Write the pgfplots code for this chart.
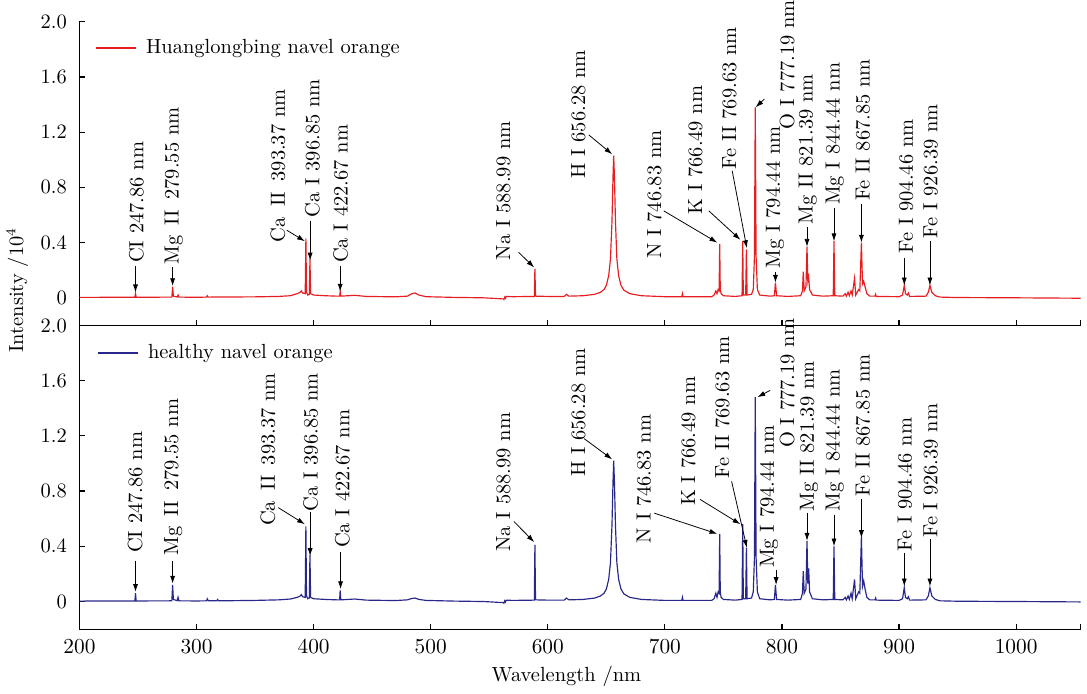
\documentclass[border=0pt]{standalone}
\usepackage{pgfplots}
\pgfplotsset{compat=1.18}
\usetikzlibrary{arrows.meta}
\definecolor{hlbred}{RGB}{230,30,34}
\definecolor{hblue}{RGB}{40,40,138}

\tikzset{
  ann/.style={rotate=90, anchor=west, inner sep=0pt, font=\fontsize{10.5}{12}\selectfont},
  arr/.style={-{Latex[length=4pt,width=2.6pt]}, line width=0.4pt, black},
}
\pgfplotsset{
  spec/.style={
    scale only axis, width=513.7pt, height=155.85pt,
    xmin=200, xmax=1055, ymin=-0.2, ymax=2.0,
    axis x line*=bottom, axis y line*=left,
    axis line style={-, line width=0.6pt},
    tick align=inside, major tick length=2.6pt,
    tick style={black, line width=0.6pt},
    xtick={200,300,...,1000}, extra x ticks={1055}, extra x tick labels={},
    x tick label style={/pgf/number format/set thousands separator={}},
    ytick={0,0.4,0.8,1.2,1.6,2.0}, yticklabels={0,0.4,0.8,1.2,1.6,2.0},
    ticklabel style={font=\fontsize{10.5}{12}\selectfont},
    yticklabel style={xshift=-3pt},
    xticklabel style={yshift=-2pt},
    clip=false,
    legend style={draw=none, fill=none, inner sep=0pt, font=\fontsize{10.5}{12}\selectfont,
      nodes={inner xsep=5pt, inner ysep=0pt}},
    legend cell align=left,
    legend image code/.code={\draw[#1] (0pt,0pt) -- (20.6pt,0pt);},
  },
}

\begin{document}
\begin{tikzpicture}
% ---------------- bottom panel: healthy ----------------
\begin{axis}[spec, at={(0,0)}, anchor=south west,
  legend style={at={(axis cs:214.6,1.80)}, anchor=west}]
\addplot[hblue, line width=0.6pt] coordinates {
(200,0.003) (240,0.004) (247.3,0.004) (247.86,0.06) (248.4,0.004)
(278.9,0.005) (279.55,0.12) (280.2,0.015) (283.5,0.006) (284.2,0.03) (284.9,0.005)
(300,0.004) (308.5,0.005) (309.2,0.02) (310,0.006) (317.3,0.006) (318,0.015) (318.7,0.006)
(330,0.006) (350,0.008) (370,0.012) (380,0.018) (386,0.03) (388.5,0.04) (389.5,0.05) (390.5,0.035)
(392.8,0.03) (393.37,0.545) (393.9,0.04) (395,0.02) (396.3,0.025) (396.85,0.34) (397.4,0.03)
(400,0.02) (410,0.015) (420,0.012) (422.2,0.012) (422.67,0.08) (423.2,0.012)
(435,0.018) (445,0.01) (470,0.007) (480,0.012) (484,0.022) (486.5,0.025) (490,0.015) (496,0.008)
(520,0.003) (545,0.0) (562,-0.008) (562.5,-0.012) (563.2,0.005) (563.8,-0.004) (564.5,0.01)
(570,0.008) (588.5,0.01) (588.99,0.41) (589.5,0.012) (600,0.01) (614,0.01) (616,0.025) (618,0.012)
(630,0.015) (640,0.025) (645,0.04) (648,0.06) (650,0.09) (652,0.16) (653.5,0.28) (654.8,0.55)
(655.7,0.87) (656.28,1.02) (656.9,0.87) (657.8,0.55) (659,0.28) (660.5,0.16) (662.5,0.09)
(665,0.055) (670,0.03) (680,0.015) (700,0.008) (714.5,0.008) (715,0.03) (715.5,0.008)
(740,0.008) (742,0.02) (743.5,0.06) (744.5,0.03) (745.5,0.07) (746.3,0.06) (746.83,0.49)
(747.3,0.07) (748,0.03) (750,0.015) (760,0.01) (765.9,0.015) (766.49,0.56) (767,0.02)
(769,0.02) (769.63,0.39) (770.2,0.02) (774,0.025) (775.5,0.07) (776.5,0.32) (777.19,1.48)
(777.9,0.32) (779,0.07) (781,0.02) (790,0.012) (793.5,0.015) (794.44,0.12) (795.4,0.015)
(805,0.01) (816,0.015) (817.5,0.06) (818.2,0.22) (819,0.06) (820.5,0.09) (821.39,0.44)
(822.1,0.13) (822.8,0.24) (823.6,0.07) (826,0.02) (835,0.012) (843.8,0.015) (844.44,0.40)
(845.1,0.015) (852,0.012) (854,0.03) (855,0.012) (856.5,0.04) (857.5,0.015) (859,0.06)
(860,0.02) (862,0.16) (863,0.02) (865.5,0.07) (866.5,0.06) (867.85,0.47) (868.8,0.11)
(869.8,0.15) (871,0.09) (872.5,0.03) (875,0.012) (879.5,0.012) (880,0.025) (880.5,0.01)
(900,0.008) (903,0.02) (904.46,0.10) (905.5,0.03) (907,0.02) (908,0.035) (909,0.01)
(923,0.012) (925,0.04) (926.39,0.10) (928,0.04) (931,0.015) (935,0.005) (950,0.002)
(1000,0.0) (1055,-0.003)
};
\addlegendentry{healthy navel orange}
% annotations
\draw[arr] (axis cs:247.86,0.29) -- (axis cs:247.86,0.07);
\node[ann] at (axis cs:247.5,0.35) {CI 247.86 nm};
\draw[arr] (axis cs:279.55,0.29) -- (axis cs:279.55,0.13);
\node[ann] at (axis cs:280,0.33) {Mg\enspace II\enspace 279.55 nm};
\draw[arr] (axis cs:369.8,0.68) -- (axis cs:392.5,0.56);
\node[ann] at (axis cs:361,0.545) {Ca\enspace II\enspace 393.37 nm};
\draw[arr] (axis cs:397,0.65) -- (axis cs:397,0.33);
\node[ann] at (axis cs:397.5,0.65) {Ca I 396.85 nm};
\draw[arr] (axis cs:423,0.36) -- (axis cs:423,0.09);
\node[ann] at (axis cs:424.6,0.385) {Ca I 422.67 nm};
\draw[arr] (axis cs:571,0.58) -- (axis cs:588.4,0.43);
\node[ann] at (axis cs:562,0.36) {Na I 588.99 nm};
\draw[arr] (axis cs:631,1.18) -- (axis cs:655,1.03);
\node[ann] at (axis cs:626,0.90) {H I 656.28 nm};
\draw[arr] (axis cs:691,0.64) -- (axis cs:744.8,0.49);
\node[ann] at (axis cs:682,0.42) {N I 746.83 nm};
\draw[arr] (axis cs:730,0.74) -- (axis cs:764.5,0.56);
\node[ann] at (axis cs:720,0.69) {K I 766.49 nm};
\draw[arr] (axis cs:757,0.87) -- (axis cs:770,0.39);
\node[ann] at (axis cs:749,0.89) {Fe II 769.63 nm};
\draw[arr] (axis cs:790,1.53) -- (axis cs:779,1.48);
\node[ann] at (axis cs:804.5,1.11) {O I 777.19 nm};
\draw[arr] (axis cs:795,0.23) -- (axis cs:795,0.12);
\node[ann] at (axis cs:789,0.24) {Mg I 794.44 nm};
\draw[arr] (axis cs:821.39,0.64) -- (axis cs:821.39,0.44);
\node[ann] at (axis cs:823,0.65) {Mg II 821.39 nm};
\draw[arr] (axis cs:844.44,0.63) -- (axis cs:844.44,0.40);
\node[ann] at (axis cs:845,0.65) {Mg I 844.44 nm};
\draw[arr] (axis cs:867.85,0.74) -- (axis cs:867.85,0.46);
\node[ann] at (axis cs:869,0.76) {Fe II 867.85 nm};
\draw[arr] (axis cs:904.46,0.35) -- (axis cs:904.46,0.11);
\node[ann] at (axis cs:905,0.36) {Fe I 904.46 nm};
\draw[arr] (axis cs:926.39,0.45) -- (axis cs:926.39,0.11);
\node[ann] at (axis cs:927,0.46) {Fe I 926.39 nm};
\end{axis}

% ---------------- top panel: Huanglongbing ----------------
\begin{axis}[spec, at={(0,155.85pt)}, anchor=south west, xticklabels={},
  legend style={at={(axis cs:213,1.81)}, anchor=west}]
\addplot[hlbred, line width=0.6pt] coordinates {
(200,0.003) (240,0.004) (247.3,0.004) (247.86,0.03) (248.4,0.004)
(278.9,0.005) (279.55,0.08) (280.2,0.012) (283.5,0.006) (284.2,0.02) (284.9,0.005)
(300,0.004) (308.5,0.005) (309.2,0.015) (310,0.005) (318,0.006)
(330,0.006) (350,0.007) (370,0.01) (380,0.015) (386,0.03) (388.5,0.04) (389.5,0.05) (390.5,0.035)
(392.8,0.03) (393.37,0.43) (393.9,0.04) (395,0.02) (396.3,0.025) (396.85,0.28) (397.4,0.03)
(400,0.02) (410,0.015) (420,0.012) (422.2,0.012) (422.67,0.045) (423.2,0.012)
(435,0.018) (445,0.01) (470,0.007) (480,0.012) (484,0.03) (486.5,0.035) (490,0.02) (496,0.008)
(520,0.003) (545,0.0) (562,-0.008) (562.5,-0.012) (563.2,0.005) (563.8,-0.004) (564.5,0.01)
(570,0.008) (588.5,0.01) (588.99,0.21) (589.5,0.012) (600,0.01) (614,0.01) (616,0.025) (618,0.012)
(630,0.015) (640,0.025) (645,0.04) (648,0.06) (650,0.09) (652,0.16) (653.5,0.28) (654.8,0.55)
(655.7,0.88) (656.28,1.03) (656.9,0.88) (657.8,0.55) (659,0.28) (660.5,0.16) (662.5,0.09)
(665,0.055) (670,0.03) (680,0.015) (700,0.008) (714.5,0.008) (715,0.03) (715.5,0.008)
(740,0.008) (742,0.02) (743.5,0.05) (744.5,0.03) (745.5,0.06) (746.3,0.05) (746.83,0.39)
(747.3,0.06) (748,0.03) (750,0.015) (760,0.01) (765.9,0.015) (766.49,0.41) (767,0.02)
(769,0.02) (769.63,0.35) (770.2,0.02) (774,0.025) (775.5,0.06) (776.5,0.3) (777.19,1.38)
(777.9,0.3) (779,0.06) (781,0.02) (790,0.012) (793.5,0.015) (794.44,0.11) (795.4,0.015)
(805,0.01) (816,0.015) (817.5,0.05) (818.2,0.19) (819,0.05) (820.5,0.08) (821.39,0.37)
(822.1,0.12) (822.8,0.15) (823.6,0.06) (826,0.02) (835,0.012) (843.8,0.015) (844.44,0.41)
(845.1,0.015) (852,0.012) (854,0.03) (855,0.012) (856.5,0.04) (857.5,0.015) (859,0.05)
(860,0.02) (862,0.14) (863,0.02) (865.5,0.06) (866.5,0.05) (867.85,0.40) (868.8,0.10)
(869.8,0.12) (871,0.08) (872.5,0.03) (875,0.012) (879.5,0.012) (880,0.025) (880.5,0.01)
(900,0.008) (903,0.02) (904.46,0.09) (905.5,0.03) (907,0.02) (908,0.035) (909,0.01)
(923,0.012) (925,0.04) (926.39,0.09) (928,0.04) (931,0.015) (935,0.005) (950,0.002)
(1000,0.0) (1055,-0.003)
};
\addlegendentry{Huanglongbing navel orange}
\draw[arr] (axis cs:247.86,0.23) -- (axis cs:247.86,0.04);
\node[ann] at (axis cs:248.5,0.25) {CI 247.86 nm};
\draw[arr] (axis cs:279.55,0.22) -- (axis cs:279.55,0.085);
\node[ann] at (axis cs:280.5,0.24) {Mg\enspace II\enspace 279.55 nm};
\draw[arr] (axis cs:377,0.49) -- (axis cs:392.5,0.41);
\node[ann] at (axis cs:369.5,0.40) {Ca\enspace II\enspace 393.37 nm};
\draw[arr] (axis cs:397,0.56) -- (axis cs:397,0.27);
\node[ann] at (axis cs:399,0.58) {Ca I 396.85 nm};
\draw[arr] (axis cs:422.67,0.23) -- (axis cs:422.67,0.045);
\node[ann] at (axis cs:423,0.25) {Ca I 422.67 nm};
\draw[arr] (axis cs:575,0.33) -- (axis cs:588.4,0.22);
\node[ann] at (axis cs:562,0.27) {Na I 588.99 nm};
\draw[arr] (axis cs:635,1.18) -- (axis cs:655,1.04);
\node[ann] at (axis cs:626,0.86) {H I 656.28 nm};
\draw[arr] (axis cs:699,0.63) -- (axis cs:744.8,0.40);
\node[ann] at (axis cs:691,0.28) {N I 746.83 nm};
\draw[arr] (axis cs:737.5,0.63) -- (axis cs:764.5,0.42);
\node[ann] at (axis cs:726,0.60) {K I 766.49 nm};
\draw[arr] (axis cs:757.5,0.92) -- (axis cs:770,0.36);
\node[ann] at (axis cs:755,0.93) {Fe II 769.63 nm};
\draw[arr] (axis cs:785,1.44) -- (axis cs:777.5,1.38);
\node[ann] at (axis cs:804.5,1.22) {O I 777.19 nm};
\draw[arr] (axis cs:794.44,0.19) -- (axis cs:794.44,0.11);
\node[ann] at (axis cs:794,0.21) {Mg I 794.44 nm};
\draw[arr] (axis cs:821.39,0.51) -- (axis cs:821.39,0.37);
\node[ann] at (axis cs:822,0.53) {Mg II 821.39 nm};
\draw[arr] (axis cs:844.44,0.65) -- (axis cs:844.44,0.41);
\node[ann] at (axis cs:845,0.67) {Mg I 844.44 nm};
\draw[arr] (axis cs:867.85,0.68) -- (axis cs:867.85,0.40);
\node[ann] at (axis cs:869,0.70) {Fe II 867.85 nm};
\draw[arr] (axis cs:904.46,0.29) -- (axis cs:904.46,0.09);
\node[ann] at (axis cs:906,0.32) {Fe I 904.46 nm};
\draw[arr] (axis cs:926.39,0.41) -- (axis cs:926.39,0.09);
\node[ann] at (axis cs:927,0.43) {Fe I 926.39 nm};
\end{axis}

\node[rotate=90, font=\fontsize{10.5}{12}\selectfont] at (-31.9pt,174pt) {Intensity /10$^4$};
\node[font=\fontsize{10.5}{12}\selectfont] at (249.9pt,-24.2pt) {Wavelength /nm};
\end{tikzpicture}
\end{document}
